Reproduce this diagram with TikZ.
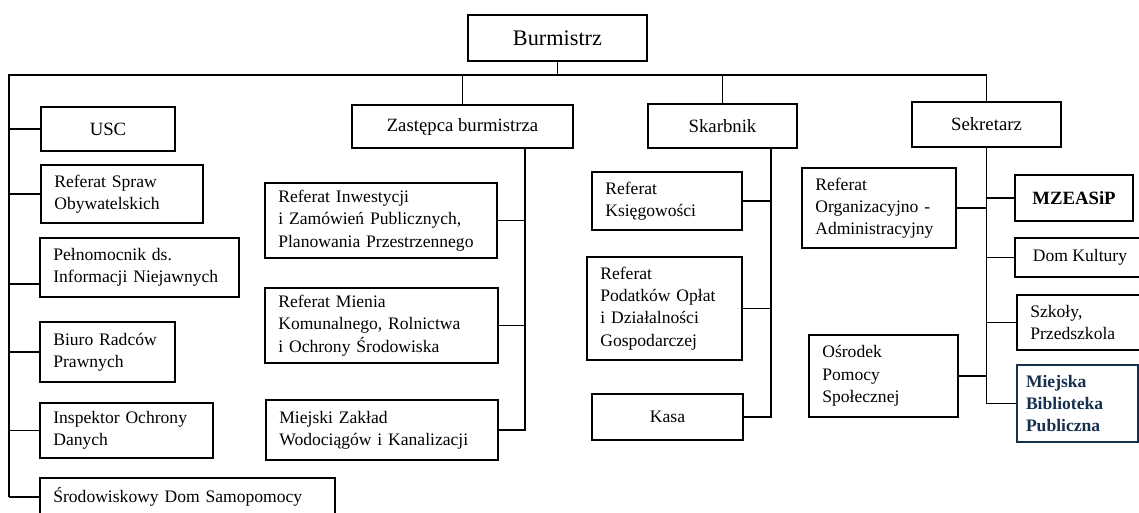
\documentclass[tikz,border=0pt]{standalone}
\usepackage{fontspec}
\setmainfont{Liberation Serif}
\definecolor{bibnavy}{RGB}{22,48,78}

\begin{document}
\begin{tikzpicture}[x=0.03cm, y=-0.03cm,
    box/.style={draw, line width=1.2pt, inner ysep=2pt, font=\fontsize{15}{19}\selectfont},
    head/.style={box, font=\fontsize{16}{19}\selectfont},
    lbox/.style={box, align=left, inner xsep=0.4cm, text width=#1},
    line/.style={line width=1.2pt}]
    \clip (0,0) rectangle (1139,513);
    \fill[white] (0,0) rectangle (1139,513);

    \node[box, font=\fontsize{19}{22}\selectfont, minimum width=5.37cm, minimum height=1.38cm] (bur) at (557.5,38) {Burmistrz};

    \node[head, minimum width=4.02cm, minimum height=1.32cm] (usc) at (108,129) {USC};
    \node[head, minimum width=6.63cm, minimum height=1.29cm] (zast) at (462.5,126.5) {Zastępca burmistrza};
    \node[head, minimum width=4.47cm, minimum height=1.32cm] (skar) at (722.5,126) {Skarbnik};
    \node[head, minimum width=4.47cm, minimum height=1.35cm] (sekr) at (986.5,124.5) {Sekretarz};

    \node[lbox=4.06cm, minimum height=1.74cm] (spraw) at (122,194) {Referat Spraw\\Obywatelskich};
    \node[lbox=5.17cm, minimum height=1.77cm] (pel) at (139.5,267.5) {Pełnomocnik ds.\\Informacji Niejawnych};
    \node[lbox=3.25cm, minimum height=1.8cm] (biuro) at (107.5,352) {Biuro Radców\\Prawnych};
    \node[lbox=4.39cm, minimum height=1.65cm] (insp) at (126.5,430.5) {Inspektor Ochrony\\Danych};
    \node[lbox=8.05cm, minimum height=1.14cm] (sdom) at (187.5,497) {Środowiskowy Dom Samopomocy};

    \node[lbox=6.16cm, minimum height=2.25cm] (inw) at (381,220.5) {Referat Inwestycji\\i Zamówień Publicznych,\\Planowania Przestrzennego};
    \node[lbox=6.19cm, minimum height=2.25cm] (mien) at (381.5,325.5) {Referat Mienia\\Komunalnego, Rolnictwa\\i Ochrony Środowiska};
    \node[lbox=6.16cm, minimum height=1.8cm] (zakl) at (382,430) {Miejski Zakład\\Wodociągów i Kanalizacji};

    \node[lbox=3.7cm, minimum height=1.74cm] (ksieg) at (667,201) {Referat\\Księgowości};
    \node[lbox=3.85cm, minimum height=3.09cm] (podat) at (664.5,308.5) {Referat\\Podatków Opłat\\i Działalności\\Gospodarczej};
    \node[box, minimum width=4.53cm, minimum height=1.38cm] (kasa) at (667.5,417) {Kasa};

    \node[lbox=3.82cm, minimum height=2.4cm] (org) at (879,208) {Referat\\Organizacyjno -\\Administracyjny};
    \node[lbox=3.67cm, minimum height=2.46cm] (osrod) at (883.5,376) {Ośrodek\\Pomocy\\Społecznej};
    \node[head, font=\fontsize{16}{19}\bfseries, minimum width=3.54cm, minimum height=1.38cm] (mzea) at (1074,198) {MZEASiP};
    \node[box, minimum width=3.9cm, minimum height=1.17cm] (dom) at (1080,257.5) {Dom Kultury};
    \node[lbox=3.19cm, minimum height=1.65cm] (szk) at (1083.5,322.5) {Szkoły,\\Przedszkola};
    \node[lbox=3.09cm, inner xsep=0.27cm, minimum height=2.31cm, draw=bibnavy, text=bibnavy, font=\fontsize{15}{19}\bfseries] (bibl) at (1077.5,403.5) {Miejska\\Biblioteka\\Publiczna};

    \coordinate (lbus) at (9,75);
    \coordinate (zbus) at (525,0);
    \coordinate (sbus) at (771,0);
    \coordinate (pelc) at ([yshift=-0.5cm]pel.west);

    \draw[line] (bur.south) -- (bur.south |- lbus);
    \draw[line] (lbus |- sdom.west) -- (lbus) -- (sekr.north |- lbus) -- (sekr.north);
    \draw[line] (zast.north) -- (zast.north |- lbus);
    \draw[line] (skar.north) -- (skar.north |- lbus);

    \foreach \n in {usc,spraw,biuro,insp,sdom}
    {
    \draw[line] (\n.west) -- (\n.west -| lbus);
    }
    \draw[line] (pelc) -- (pelc -| lbus);

    \draw[line] (zast.south -| zbus) -- (zbus |- zakl.east) -- (zakl.east);
    \foreach \n in {inw,mien}
    {
    \draw[line] (\n.east) -- (\n.east -| zbus);
    }

    \draw[line] (skar.south -| sbus) -- (sbus |- kasa.east) -- (kasa.east);
    \foreach \n in {ksieg,podat}
    {
    \draw[line] (\n.east) -- (\n.east -| sbus);
    }

    \draw[line] (sekr.south) -- (sekr.south |- bibl.west) -- (bibl.west);
    \foreach \n in {mzea,dom,szk}
    {
    \draw[line] (\n.west) -- (\n.west -| sekr.south);
    }
    \foreach \n in {org,osrod}
    {
    \draw[line] (\n.east) -- (\n.east -| sekr.south);
    }
\end{tikzpicture}
\end{document}
